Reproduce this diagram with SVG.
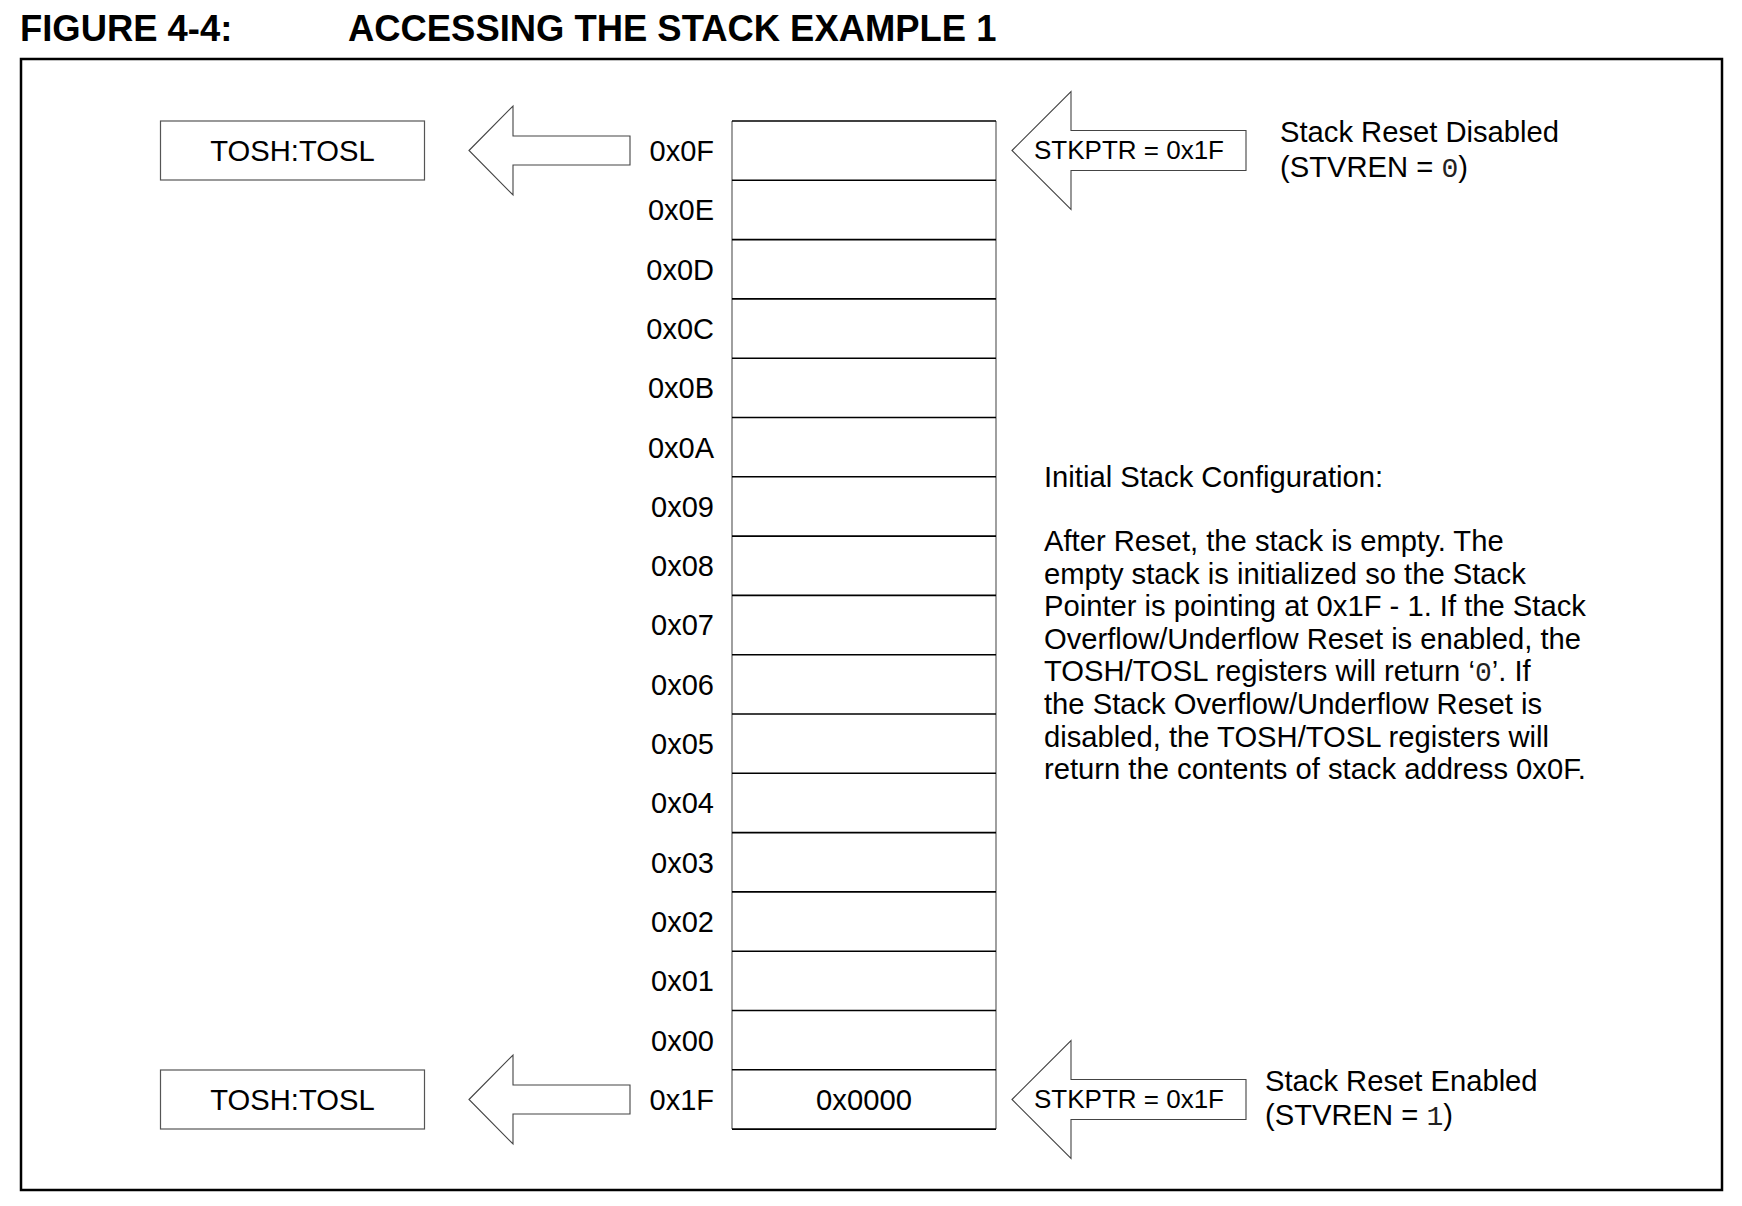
<svg xmlns="http://www.w3.org/2000/svg" width="1742" height="1206" viewBox="0 0 1742 1206">
<style>
text{font-family:"Liberation Sans",Arial,sans-serif;fill:#000}
.title{font-size:36.4px;font-weight:bold}
.lbl{font-size:29.2px}
.addr{font-size:29px;text-anchor:end}
.mid{text-anchor:middle}
.ptr{font-size:26px}
.mono{font-family:"Liberation Mono","Courier New",monospace;font-size:28px;fill:#222}
.box{fill:#fff;stroke:#555;stroke-width:1.2}
.arrow{fill:#fff;stroke:#444;stroke-width:1.1}
.hline{stroke:#000;stroke-width:1.6}
.vline{stroke:#888;stroke-width:1.6}
</style>
<rect width="1742" height="1206" fill="#fff"/>
<text class="title" x="20" y="41">FIGURE 4-4:</text>
<text class="title" x="348" y="41">ACCESSING THE STACK EXAMPLE 1</text>
<rect x="21" y="59" width="1701" height="1131" fill="none" stroke="#000" stroke-width="2.5"/>

<g id="stack">
<line class="vline" x1="732" y1="121" x2="732" y2="1129"/>
<line class="vline" x1="996" y1="121" x2="996" y2="1129"/>
<line class="hline" x1="732" y1="121" x2="996" y2="121"/>
<line class="hline" x1="732" y1="180.3" x2="996" y2="180.3"/>
<line class="hline" x1="732" y1="239.6" x2="996" y2="239.6"/>
<line class="hline" x1="732" y1="298.9" x2="996" y2="298.9"/>
<line class="hline" x1="732" y1="358.2" x2="996" y2="358.2"/>
<line class="hline" x1="732" y1="417.5" x2="996" y2="417.5"/>
<line class="hline" x1="732" y1="476.8" x2="996" y2="476.8"/>
<line class="hline" x1="732" y1="536.1" x2="996" y2="536.1"/>
<line class="hline" x1="732" y1="595.4" x2="996" y2="595.4"/>
<line class="hline" x1="732" y1="654.7" x2="996" y2="654.7"/>
<line class="hline" x1="732" y1="714" x2="996" y2="714"/>
<line class="hline" x1="732" y1="773.3" x2="996" y2="773.3"/>
<line class="hline" x1="732" y1="832.6" x2="996" y2="832.6"/>
<line class="hline" x1="732" y1="891.9" x2="996" y2="891.9"/>
<line class="hline" x1="732" y1="951.2" x2="996" y2="951.2"/>
<line class="hline" x1="732" y1="1010.5" x2="996" y2="1010.5"/>
<line class="hline" x1="732" y1="1069.8" x2="996" y2="1069.8"/>
<line class="hline" x1="732" y1="1129.1" x2="996" y2="1129.1"/>
<text class="lbl mid" x="864" y="1109.5">0x0000</text>
</g>

<g id="addresses">
<text class="addr" x="714" y="161">0x0F</text>
<text class="addr" x="714" y="220.3">0x0E</text>
<text class="addr" x="714" y="279.6">0x0D</text>
<text class="addr" x="714" y="338.9">0x0C</text>
<text class="addr" x="714" y="398.2">0x0B</text>
<text class="addr" x="714" y="457.5">0x0A</text>
<text class="addr" x="714" y="516.8">0x09</text>
<text class="addr" x="714" y="576.1">0x08</text>
<text class="addr" x="714" y="635.4">0x07</text>
<text class="addr" x="714" y="694.7">0x06</text>
<text class="addr" x="714" y="754">0x05</text>
<text class="addr" x="714" y="813.3">0x04</text>
<text class="addr" x="714" y="872.6">0x03</text>
<text class="addr" x="714" y="931.9">0x02</text>
<text class="addr" x="714" y="991.2">0x01</text>
<text class="addr" x="714" y="1050.5">0x00</text>
<text class="addr" x="714" y="1109.8">0x1F</text>
</g>

<g id="tos-top">
<rect class="box" x="160.5" y="121" width="264" height="59"/>
<text class="lbl mid" x="292.5" y="161">TOSH:TOSL</text>
</g>
<g id="tos-bottom">
<rect class="box" x="160.5" y="1070" width="264" height="59"/>
<text class="lbl mid" x="292.5" y="1110">TOSH:TOSL</text>
</g>

<g id="connectors">
<polygon class="arrow" points="469,150.5 513,106 513,136 630,136 630,165 513,165 513,195"/>
<polygon class="arrow" points="469,1099.5 513,1055 513,1085 630,1085 630,1114 513,1114 513,1144"/>
<polygon class="arrow" points="1012,150.5 1071,91.5 1071,130.5 1246,130.5 1246,170.5 1071,170.5 1071,209.5"/>
<polygon class="arrow" points="1012,1099.5 1071,1040.5 1071,1079.5 1246,1079.5 1246,1119.5 1071,1119.5 1071,1158.5"/>
</g>

<g id="stkptr-top">
<text class="ptr" x="1034" y="159">STKPTR = 0x1F</text>
</g>
<g id="stkptr-bottom">
<text class="ptr" x="1034" y="1108">STKPTR = 0x1F</text>
</g>

<g id="note-disabled">
<text class="lbl" x="1280" y="142">Stack Reset Disabled</text>
<text class="lbl" x="1280" y="177">(STVREN = <tspan class="mono">0</tspan>)</text>
</g>
<g id="note-enabled">
<text class="lbl" x="1265" y="1091">Stack Reset Enabled</text>
<text class="lbl" x="1265" y="1125">(STVREN = <tspan class="mono">1</tspan>)</text>
</g>

<g id="description">
<text class="lbl" x="1044" y="487">Initial Stack Configuration:</text>
<text class="lbl" x="1044" y="551">After Reset, the stack is empty. The</text>
<text class="lbl" x="1044" y="583.6">empty stack is initialized so the Stack</text>
<text class="lbl" x="1044" y="616.2">Pointer is pointing at 0x1F - 1. If the Stack</text>
<text class="lbl" x="1044" y="648.8">Overflow/Underflow Reset is enabled, the</text>
<text class="lbl" x="1044" y="681.4">TOSH/TOSL registers will return ‘<tspan class="mono">0</tspan>’. If</text>
<text class="lbl" x="1044" y="714">the Stack Overflow/Underflow Reset is</text>
<text class="lbl" x="1044" y="746.6">disabled, the TOSH/TOSL registers will</text>
<text class="lbl" x="1044" y="779.2">return the contents of stack address 0x0F.</text>
</g>
</svg>
